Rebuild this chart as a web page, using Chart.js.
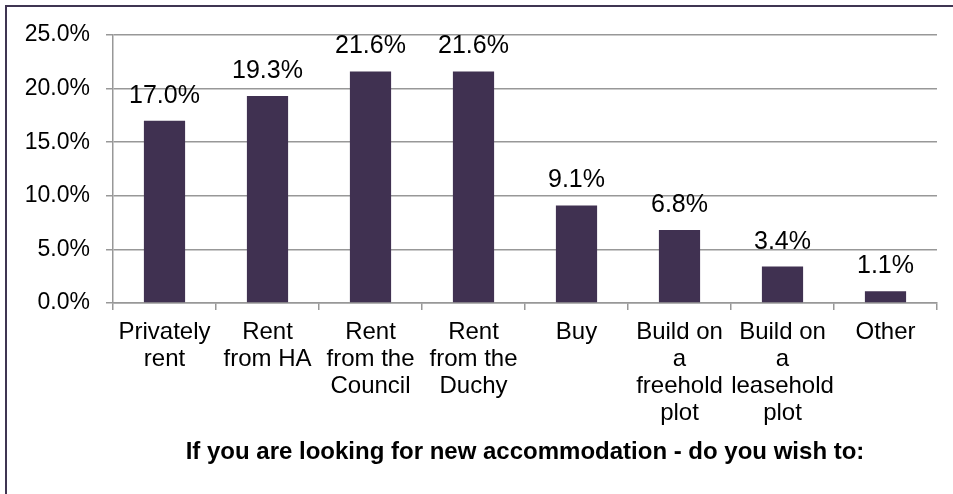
<!DOCTYPE html>
<html>
<head>
<meta charset="utf-8">
<script src="https://cdn.jsdelivr.net/npm/chart.js@4"></script>
<style>
  html, body { margin:0; padding:0; background:#fff; overflow:hidden; }
  #frame { position:absolute; left:5px; top:5px; width:2000px; height:2000px; border:2px solid #3f3552; }
  #wrap { position:absolute; left:0; top:0; width:953px; height:494px; }
</style>
</head>
<body>
<div id="frame"></div>
<div id="wrap"><canvas id="chart"></canvas></div>
<script>
// Categories (multi-line labels) and values in percent
const categories = [
  ["Privately", "rent"],
  ["Rent", "from HA"],
  ["Rent", "from the", "Council"],
  ["Rent", "from the", "Duchy"],
  ["Buy"],
  ["Build on", "a", "freehold", "plot"],
  ["Build on", "a", "leasehold", "plot"],
  ["Other"]
];
const values = [17.0, 19.3, 21.6, 21.6, 9.1, 6.8, 3.4, 1.1];
const yTicks = [0, 5, 10, 15, 20, 25];
const axisTitle = "If you are looking for new accommodation - do you wish to:";

const FONT = "'Liberation Sans', Arial, sans-serif";

// Helper: value labels above each bar
const barLabels = {
  id: "barLabels",
  afterDatasetsDraw(chart) {
    const ctx = chart.ctx;
    const meta = chart.getDatasetMeta(0);
    ctx.save();
    ctx.font = "25px " + FONT;
    ctx.fillStyle = "#000";
    ctx.textAlign = "center";
    ctx.textBaseline = "alphabetic";
    meta.data.forEach((bar, i) => {
      ctx.fillText(values[i].toFixed(1) + "%", bar.x, bar.y - 18);
    });
    ctx.restore();
  }
};

const ctx = document.getElementById("chart").getContext("2d");
new Chart(ctx, {
  type: "bar",
  data: {
    labels: categories,
    datasets: [{
      data: values,
      backgroundColor: "#403151",
      categoryPercentage: 1.0,
      barPercentage: 0.4
    }]
  },
  options: {
    responsive: true,
    maintainAspectRatio: false,
    animation: false,
    layout: { padding: { left: 0, top: 35, right: 16, bottom: 0 } },
    plugins: { legend: { display: false }, tooltip: { enabled: false } },
    scales: {
      y: {
        min: 0, max: 25,
        afterBuildTicks: s => { s.ticks = yTicks.map(v => ({ value: v })); },
        afterFit: s => { s.width = 113; },
        ticks: {
          callback: v => v.toFixed(1) + "%",
          color: "#000",
          font: { family: FONT, size: 23 },
          padding: 16
        },
        grid: { color: "#989898", lineWidth: 1.5, tickLength: 7 },
        border: { color: "#989898", width: 1.5 }
      },
      x: {
        afterFit: s => { s.height = 191; },
        ticks: {
          color: "#000",
          font: { family: FONT, size: 24, lineHeight: 1.12 },
          padding: 9,
          maxRotation: 0,
          autoSkip: false
        },
        grid: { drawOnChartArea: false, drawTicks: true, tickLength: 7, color: "#989898", lineWidth: 1.5 },
        border: { color: "#989898", width: 1.5 },
        title: {
          display: true,
          text: axisTitle,
          color: "#000",
          font: { family: FONT, size: 24, weight: "bold" },
          padding: { top: 0, bottom: 27 }
        }
      }
    }
  },
  plugins: [barLabels]
});
</script>
</body>
</html>
